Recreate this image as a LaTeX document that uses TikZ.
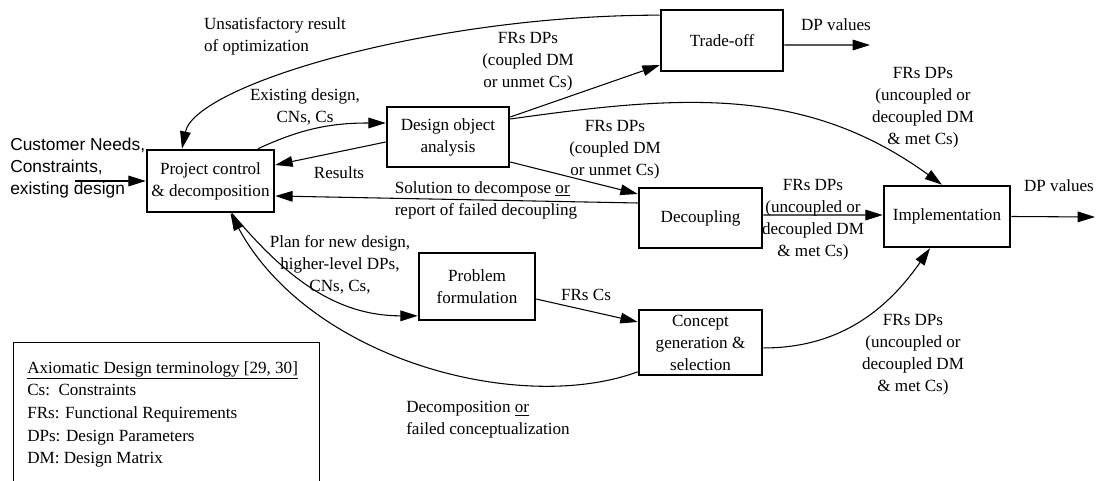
\documentclass[tikz,border=0pt]{standalone}
\usepackage{fontspec}
\setmainfont{Liberation Serif}
\newfontfamily\arialfont{Liberation Sans}
\usetikzlibrary{arrows.meta}
\begin{document}
\begin{tikzpicture}[x=0.75pt,y=-0.75pt,
  font=\fontsize{12.8}{16.5}\selectfont,
  box/.style={draw,line width=1.9pt,align=center,inner sep=0pt},
  arr/.style={line width=0.8pt,-{Triangle[length=13pt,width=8pt]}},
  ln/.style={line width=0.8pt},
  lbl/.style={align=center,inner sep=0pt}]
\useasboundingbox (0,0) rectangle (1096,481);
% boxes
\node[box,minimum width=95.25pt,minimum height=46.5pt] (proj) at (210.5,181) {Project control\\\& decomposition};
\node[box,minimum width=91.5pt,minimum height=45pt] (doa) at (448,137) {Design object\\analysis};
\node[box,minimum width=91.5pt,minimum height=45.75pt] (trade) at (722,40.5) {Trade-off};
\node[box,minimum width=92.25pt,minimum height=45pt] (dec) at (700.5,218) {Decoupling};
\node[box,minimum width=94.5pt,minimum height=45.75pt] (impl) at (947,216.5) {Implementation};
\node[box,minimum width=87pt,minimum height=50.25pt] (prob) at (477,286.5) {Problem\\formulation};
\node[box,minimum width=92.25pt,minimum height=48.75pt] (conc) at (700.5,342.5) {Concept\\generation \&\\selection};
% input
\node[lbl,align=left,anchor=west,font=\arialfont\fontsize{13}{16.5}\selectfont] (cn) at (10,168) {Customer Needs,\\Constraints,\\existing design};
\coordinate (in) at (75,181);
\draw[arr] (in) -- (proj.west);
% outputs
\coordinate (dp1) at (870,45);
\coordinate (dp2) at (1095,217);
\draw[arr] ([yshift=-3.4pt]trade.east) -- (dp1);
\draw[arr] (impl.east) -- (dp2);
\node[lbl] (l10) at (836,25) {DP values};
\node[lbl] (l11) at (1059,186) {DP values};
% trade-off -> project
\draw[arr] ([yshift=19pt]trade.west) .. controls (430,15) and (195,85) .. ([xshift=-21.4pt]proj.north);
\node[lbl,align=left] (l1) at (275,36.5) {Unsatisfactory result\\of optimization};
% project -> doa
\draw[arr] ([xshift=35.6pt]proj.north) to[out=25,in=180] ([yshift=10.5pt]doa.west);
\node[lbl] (l2) at (305,107) {Existing design,\\CNs, Cs};
% doa -> project
\draw[arr] ([yshift=-3.75pt]doa.west) -- ([yshift=12pt]proj.east);
\node[lbl] (l3) at (339,173) {Results};
% decoupling -> project
\draw[arr] ([yshift=11.25pt]dec.west) -- ([yshift=-11.25pt]proj.east);
\node[lbl,align=left] (l4) at (486,200) {Solution to decompose \underline{or}\\report of failed decoupling};
% doa -> trade
\draw[arr] ([yshift=15pt]doa.east) -- ([yshift=-18.4pt]trade.west);
\node[lbl] (l5) at (528,62) {FRs DPs\\(coupled DM\\or unmet Cs)};
% doa -> impl
\draw[arr] ([yshift=13.5pt]doa.east) to[out=8,in=144] ([xshift=-3.75pt]impl.north);
\node[lbl] (l7) at (923,108) {FRs DPs\\(uncoupled or\\decoupled DM\\\& met Cs)};
% doa -> dec
\draw[arr] ([yshift=-18.75pt]doa.east) -- ([yshift=18pt]dec.west);
\node[lbl] (l6) at (615,150) {FRs DPs\\(coupled DM\\or unmet Cs)};
% dec -> impl
\draw[arr] ([yshift=2.25pt]dec.east) -- ([yshift=1.1pt]impl.west);
\node[lbl] (l8) at (813,220) {FRs DPs\\(uncoupled or\\decoupled DM\\\& met Cs)};
% project -> problem
\draw[arr] ([xshift=16pt]proj.south) to[out=-50,in=180] ([yshift=-22pt]prob.west);
\node[lbl] (l12) at (340,265) {Plan for new design,\\higher-level DPs,\\CNs, Cs,};
% problem -> concept
\draw[arr] ([yshift=-9.4pt]prob.east) -- ([yshift=15.4pt]conc.west);
\node[lbl] (l13) at (586,295) {FRs Cs};
% concept -> project
\draw[arr] ([yshift=-22pt]conc.west) .. controls (520,415) and (310,360) .. ([xshift=15pt]proj.south);
\node[lbl,align=left] (l14) at (488,420) {Decomposition \underline{or}\\failed conceptualization};
% concept -> impl
\draw[arr] ([yshift=-4.1pt]conc.east) to[out=0,in=-125] ([xshift=-12.75pt]impl.south);
\node[lbl] (l9) at (913,355) {FRs DPs\\(uncoupled or\\decoupled DM\\\& met Cs)};
% legend
\draw[line width=0.7pt] (13,481) -- (13,342) -- (319,342) -- (319,481);
\node[lbl,align=left,anchor=north west,font=\fontsize{12.8}{17}\selectfont] (leg) at (27,361) {\underline{Axiomatic Design terminology [29, 30]}\\Cs:\ \ Constraints\\FRs: Functional Requirements\\DPs: Design Parameters\\DM: Design Matrix};
\end{tikzpicture}
\end{document}
